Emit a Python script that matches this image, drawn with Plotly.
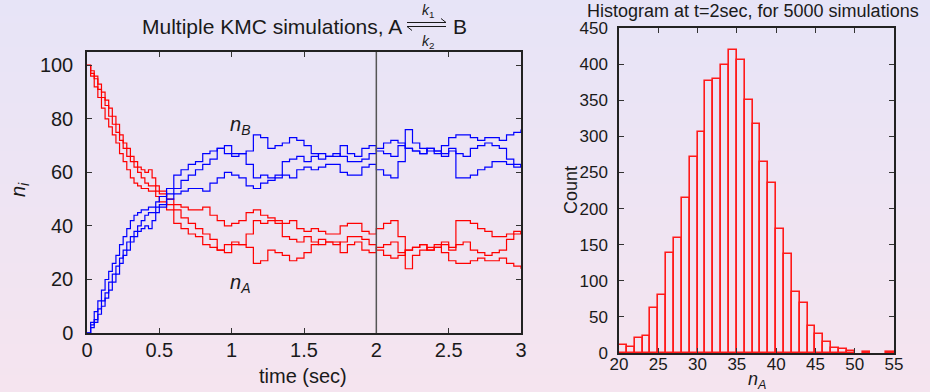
import plotly.graph_objects as go

W, H = 930, 392

# ---- KMC trajectories: number of A molecules (n_B = 100 - n_A) ----
time_s = [round(0.025 * i, 3) for i in range(21)] + [round(0.55 + 0.05 * i, 2) for i in range(50)]

nA_run1 = [100, 96, 92, 88, 84, 80, 77, 74, 71, 67, 64, 61, 58, 56, 55, 54, 54, 53, 53, 51, 49,
           46, 41, 39, 37, 36, 33, 32, 31, 30, 33, 33, 32, 26, 27, 31, 30, 29, 27, 28, 30,
           33, 35, 34, 34, 30, 33, 34, 31, 30, 32,
           33, 34, 30, 31, 32, 33, 31, 32, 34, 32, 33, 34, 31, 30, 29, 30, 31, 35, 37, 38]
nA_run2 = [100, 98, 96, 93, 90, 87, 84, 81, 78, 74, 71, 69, 66, 64, 62, 61, 60, 61, 58, 55, 53,
           50, 48, 47, 46, 46, 47, 44, 42, 40, 41, 42, 45, 46, 44, 43, 42, 41, 42, 39, 38,
           39, 38, 37, 37, 40, 41, 41, 38, 37, 39,
           41, 42, 36, 24, 29, 31, 32, 33, 30, 27, 26, 26, 27, 28, 27, 27, 28, 26, 25, 24]
nA_run3 = [100, 97, 95, 91, 88, 85, 81, 78, 75, 72, 69, 66, 64, 62, 60, 58, 56, 55, 55, 53, 52,
           48, 46, 43, 41, 39, 37, 35, 31, 33, 34, 33, 37, 42, 41, 42, 41, 36, 35, 34, 36,
           34, 33, 34, 33, 34, 36, 36, 35, 33, 31,
           29, 28, 29, 31, 32, 33, 31, 32, 33, 31, 42, 42, 41, 39, 38, 36, 36, 37, 38, 37]
runs_nA = [nA_run1, nA_run2, nA_run3]
n_total = 100
t_snapshot = 2.0

# ---- histogram of n_A at t = 2 s over 5000 runs (unit bins starting at 20) ----
bin_left = list(range(20, 55))
bin_count = [11, 8, 21, 23, 63, 81, 139, 159, 214, 272, 306, 377, 380, 399, 420, 406, 350,
             317, 264, 235, 172, 137, 85, 69, 38, 27, 15, 7, 6, 3, 0, 1, 0, 0, 1]

left_xticks = [0, 0.5, 1, 1.5, 2, 2.5, 3]
left_yticks = [0, 20, 40, 60, 80, 100]
hist_xticks = [20, 25, 30, 35, 40, 45, 50, 55]
hist_yticks = list(range(0, 451, 50))

FONT = "Liberation Sans"
INK = "#1a1a1a"


def px(x):
    return x / W


def py(y):
    return 1 - y / H


fig = go.Figure()

for nA in runs_nA:
    fig.add_trace(go.Scatter(x=time_s, y=nA, mode="lines", line=dict(color="#ff0000", width=1.2, shape="hv"),
                             xaxis="x", yaxis="y", showlegend=False, hoverinfo="skip"))
for nA in runs_nA:
    fig.add_trace(go.Scatter(x=time_s, y=[n_total - v for v in nA], mode="lines",
                             line=dict(color="#0000ff", width=1.2, shape="hv"),
                             xaxis="x", yaxis="y", showlegend=False, hoverinfo="skip"))

bx = [b + 0.5 for b, c in zip(bin_left, bin_count) if c > 0]
by = [c for c in bin_count if c > 0]
fig.add_trace(go.Bar(x=bx, y=by, width=1.0, marker=dict(color="rgba(0,0,0,0)",
                                                         line=dict(color="#ff1a1a", width=1.6)),
                     xaxis="x2", yaxis="y2", showlegend=False, hoverinfo="skip"))

# soft vertical background gradient (lavender to pink)
top_c = (231, 228, 247)
bot_c = (245, 228, 239)
bands = 49
shapes = []
for i in range(bands):
    f = i / (bands - 1)
    col = tuple(round(top_c[k] + (bot_c[k] - top_c[k]) * f) for k in range(3))
    shapes.append(dict(type="rect", xref="paper", yref="paper", x0=0, x1=1,
                       y0=1 - (i + 1) / bands, y1=1 - i / bands + 0.001,
                       fillcolor="rgb(%d,%d,%d)" % col, line=dict(width=0), layer="below"))

# marker for the histogram snapshot time
shapes.append(dict(type="line", xref="x", yref="y domain", x0=t_snapshot, x1=t_snapshot, y0=0, y1=1,
                   line=dict(color="#555555", width=1.5)))

# reaction arrows (harpoons) in the title
ax0, ax1 = 407, 446
ua, la = 22.5, 26.5
harp = dict(color=INK, width=1)
shapes += [
    dict(type="line", xref="paper", yref="paper", x0=px(ax0), x1=px(ax1), y0=py(ua), y1=py(ua), line=harp),
    dict(type="line", xref="paper", yref="paper", x0=px(ax1 - 5), x1=px(ax1), y0=py(ua - 4), y1=py(ua), line=harp),
    dict(type="line", xref="paper", yref="paper", x0=px(ax0), x1=px(ax1), y0=py(la), y1=py(la), line=harp),
    dict(type="line", xref="paper", yref="paper", x0=px(ax0), x1=px(ax0 + 5), y0=py(la), y1=py(la + 4), line=harp),
]

ann = []


def label(text, x, y, size, xanchor="center", yanchor="middle", angle=0):
    ann.append(dict(text=text, x=px(x), y=py(y), xref="paper", yref="paper", showarrow=False,
                    xanchor=xanchor, yanchor=yanchor, textangle=angle,
                    font=dict(family=FONT, size=size, color=INK)))


label("Multiple KMC simulations, A", 404, 27, 21, xanchor="right")
label("B", 451, 27, 21, xanchor="left")
label("<i>k</i><sub>1</sub>", 428, 11, 14)
label("<i>k</i><sub>2</sub>", 428, 42, 14)
label("Histogram at t=2sec, for 5000 simulations", 753, 11, 18)
label("<i>n<sub>i</sub></i>", 20, 190, 20, angle=-90)
label("time (sec)", 303, 376, 20)
label("Count", 571, 190, 18, angle=-90)
label("<i>n<sub>A</sub></i>", 757, 380, 18)

ann.append(dict(text="<i>n<sub>B</sub></i>", x=1.06, y=77.6, xref="x", yref="y", showarrow=False,
                font=dict(family=FONT, size=20, color=INK)))
ann.append(dict(text="<i>n<sub>A</sub></i>", x=1.06, y=18.6, xref="x", yref="y", showarrow=False,
                font=dict(family=FONT, size=20, color=INK)))

axis_common = dict(showgrid=False, zeroline=False, showline=True, linecolor="#222222", linewidth=1.5,
                   mirror="allticks", ticks="inside", ticklen=5, tickwidth=1, tickcolor="#333333",
                   fixedrange=True, automargin=False)

fig.update_layout(
    width=W, height=H,
    margin=dict(l=0, r=0, t=0, b=0, pad=0, autoexpand=False),
    paper_bgcolor="rgba(0,0,0,0)", plot_bgcolor="rgba(0,0,0,0)",
    font=dict(family=FONT, color=INK),
    shapes=shapes, annotations=ann, bargap=0,
    xaxis=dict(domain=[px(87), px(521)], range=[0, 3], tickvals=left_xticks,
               ticktext=[("%g" % v) for v in left_xticks], tickfont=dict(size=20), ticklabelstandoff=-2,
               anchor="y", **axis_common),
    yaxis=dict(domain=[py(333), py(52)], range=[0, 105], tickvals=left_yticks,
               tickfont=dict(size=20), ticklabelstandoff=8, anchor="x", **axis_common),
    xaxis2=dict(domain=[px(619), px(894)], range=[20, 55], tickvals=hist_xticks,
                tickfont=dict(size=17), ticklabelstandoff=-5, anchor="y2", **axis_common),
    yaxis2=dict(domain=[py(353), py(28)], range=[0, 450], tickvals=hist_yticks,
                tickfont=dict(size=17), ticklabelstandoff=6, anchor="x2", **axis_common),
)

fig.write_html("out.html")
